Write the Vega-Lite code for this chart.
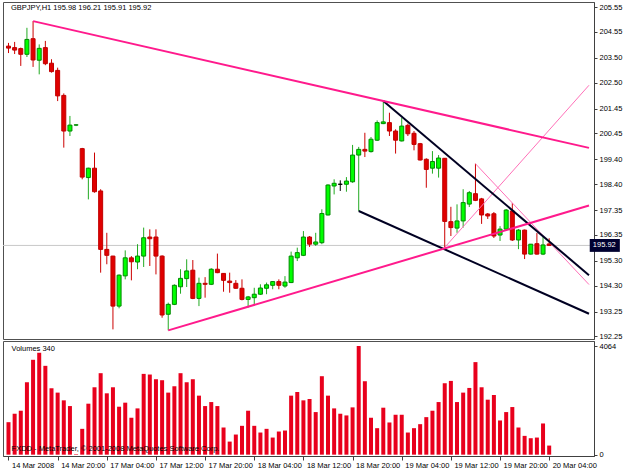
{
  "$schema": "https://vega.github.io/schema/vega-lite/v6.json",
  "background": "white",
  "padding": {"left": 2, "top": 1, "right": 0, "bottom": 0},
  "bounds": "flush",
  "spacing": 2,
  "config": {
    "font": "Liberation Sans",
    "view": {"stroke": "#505050", "strokeWidth": 1},
    "axis": {"domainColor": "#404040", "tickColor": "#404040", "labelColor": "#000000", "labelFont": "Liberation Sans", "labelFontSize": 7.5, "tickSize": 3, "labelPadding": 2, "grid": false}
  },
  "datasets": {
    "candles": [
      {"i":0,"o":203.97,"h":204.10,"l":203.69,"c":203.89,"v":1215},
      {"i":1,"o":203.91,"h":204.14,"l":203.65,"c":203.81,"v":1531},
      {"i":2,"o":203.87,"h":203.91,"l":203.17,"c":203.64,"v":1644},
      {"i":3,"o":203.64,"h":204.71,"l":203.53,"c":204.24,"v":2709},
      {"i":4,"o":204.27,"h":204.98,"l":203.13,"c":203.41,"v":3549},
      {"i":5,"o":203.40,"h":204.04,"l":202.83,"c":203.88,"v":3812},
      {"i":6,"o":203.91,"h":204.18,"l":203.20,"c":203.26,"v":3323},
      {"i":7,"o":203.28,"h":203.44,"l":202.90,"c":202.94,"v":2484},
      {"i":8,"o":202.99,"h":203.10,"l":201.75,"c":201.96,"v":2321},
      {"i":9,"o":201.98,"h":202.06,"l":199.87,"c":200.54,"v":2032},
      {"i":10,"o":200.54,"h":201.15,"l":200.34,"c":200.78,"v":1818},
      {"i":11,"o":200.78,"h":200.82,"l":200.74,"c":200.79,"v":20},
      {"i":12,"o":199.83,"h":199.86,"l":198.59,"c":198.68,"v":966},
      {"i":13,"o":198.66,"h":199.06,"l":197.78,"c":199.04,"v":1907},
      {"i":14,"o":199.04,"h":199.67,"l":198.05,"c":198.09,"v":2521},
      {"i":15,"o":198.12,"h":198.19,"l":194.82,"c":195.76,"v":3048},
      {"i":16,"o":195.76,"h":196.43,"l":195.16,"c":195.52,"v":2295},
      {"i":17,"o":195.49,"h":195.50,"l":192.53,"c":193.47,"v":2521},
      {"i":18,"o":193.47,"h":194.75,"l":193.38,"c":194.72,"v":1794},
      {"i":19,"o":194.69,"h":195.72,"l":194.55,"c":195.42,"v":1945},
      {"i":20,"o":195.42,"h":195.49,"l":194.51,"c":195.26,"v":1381},
      {"i":21,"o":195.25,"h":195.97,"l":194.96,"c":195.49,"v":1731},
      {"i":22,"o":195.49,"h":196.64,"l":195.05,"c":196.23,"v":3022},
      {"i":23,"o":196.26,"h":196.57,"l":195.09,"c":196.19,"v":2998},
      {"i":24,"o":196.26,"h":196.57,"l":194.75,"c":195.49,"v":2822},
      {"i":25,"o":195.49,"h":195.52,"l":193.00,"c":193.11,"v":2785},
      {"i":26,"o":193.14,"h":193.61,"l":192.49,"c":193.54,"v":2321},
      {"i":27,"o":193.54,"h":194.35,"l":193.51,"c":194.31,"v":2559},
      {"i":28,"o":194.25,"h":194.96,"l":193.97,"c":194.59,"v":3048},
      {"i":29,"o":194.58,"h":195.36,"l":194.24,"c":194.89,"v":2709},
      {"i":30,"o":194.92,"h":195.33,"l":193.75,"c":193.78,"v":2822},
      {"i":31,"o":193.78,"h":194.62,"l":193.47,"c":194.39,"v":2208},
      {"i":32,"o":194.39,"h":194.64,"l":193.81,"c":194.35,"v":1818},
      {"i":33,"o":194.35,"h":195.00,"l":194.32,"c":194.96,"v":1968},
      {"i":34,"o":194.96,"h":195.59,"l":194.80,"c":194.82,"v":1818},
      {"i":35,"o":194.79,"h":194.80,"l":194.05,"c":194.51,"v":1016},
      {"i":36,"o":194.48,"h":194.82,"l":194.01,"c":194.42,"v":489},
      {"i":37,"o":194.39,"h":194.52,"l":194.17,"c":194.19,"v":753},
      {"i":38,"o":194.19,"h":194.55,"l":193.70,"c":193.74,"v":1079},
      {"i":39,"o":193.74,"h":193.88,"l":193.41,"c":193.84,"v":1644},
      {"i":40,"o":193.81,"h":194.21,"l":193.51,"c":193.95,"v":1079},
      {"i":41,"o":193.95,"h":194.35,"l":193.92,"c":194.20,"v":828},
      {"i":42,"o":194.19,"h":194.42,"l":193.95,"c":194.33,"v":966},
      {"i":43,"o":194.31,"h":194.48,"l":194.15,"c":194.46,"v":640},
      {"i":44,"o":194.46,"h":194.55,"l":194.15,"c":194.31,"v":866},
      {"i":45,"o":194.28,"h":194.68,"l":194.21,"c":194.44,"v":903},
      {"i":46,"o":194.42,"h":195.67,"l":194.40,"c":195.49,"v":2208},
      {"i":47,"o":195.42,"h":195.83,"l":195.29,"c":195.63,"v":2345},
      {"i":48,"o":195.52,"h":196.50,"l":195.49,"c":196.26,"v":2032},
      {"i":49,"o":196.26,"h":196.30,"l":195.86,"c":195.97,"v":2082},
      {"i":50,"o":195.97,"h":196.43,"l":195.90,"c":196.06,"v":1593},
      {"i":51,"o":196.03,"h":197.38,"l":195.97,"c":197.21,"v":2935},
      {"i":52,"o":197.15,"h":198.39,"l":197.13,"c":198.36,"v":2208},
      {"i":53,"o":198.32,"h":198.59,"l":197.98,"c":198.43,"v":1731},
      {"i":54,"o":198.39,"h":198.55,"l":198.12,"c":198.39,"v":1531},
      {"i":55,"o":198.39,"h":198.68,"l":198.09,"c":198.52,"v":1468},
      {"i":56,"o":198.49,"h":199.98,"l":198.45,"c":199.57,"v":1769},
      {"i":57,"o":199.57,"h":199.90,"l":197.31,"c":199.80,"v":4064},
      {"i":58,"o":199.80,"h":200.47,"l":199.49,"c":199.73,"v":2747},
      {"i":59,"o":199.71,"h":200.30,"l":199.67,"c":200.21,"v":1381},
      {"i":60,"o":200.17,"h":200.97,"l":200.14,"c":200.88,"v":991},
      {"i":61,"o":200.84,"h":201.75,"l":200.82,"c":200.91,"v":1757},
      {"i":62,"o":200.88,"h":201.28,"l":200.34,"c":200.54,"v":1204},
      {"i":63,"o":200.54,"h":200.61,"l":199.63,"c":200.17,"v":1493},
      {"i":64,"o":200.14,"h":201.08,"l":200.12,"c":200.74,"v":1493},
      {"i":65,"o":200.77,"h":200.84,"l":200.34,"c":200.43,"v":828},
      {"i":66,"o":200.45,"h":200.54,"l":199.76,"c":200.00,"v":991},
      {"i":67,"o":200.03,"h":200.06,"l":199.35,"c":199.37,"v":1141},
      {"i":68,"o":199.40,"h":199.44,"l":198.25,"c":198.99,"v":1404},
      {"i":69,"o":199.04,"h":199.73,"l":198.82,"c":199.31,"v":1644},
      {"i":70,"o":199.04,"h":199.57,"l":198.66,"c":199.45,"v":1968},
      {"i":71,"o":199.44,"h":199.45,"l":195.84,"c":196.89,"v":2672},
      {"i":72,"o":196.88,"h":197.48,"l":196.30,"c":196.64,"v":2759},
      {"i":73,"o":196.62,"h":197.58,"l":196.43,"c":196.91,"v":1968},
      {"i":74,"o":196.91,"h":198.19,"l":196.64,"c":197.65,"v":2321},
      {"i":75,"o":197.59,"h":198.12,"l":197.47,"c":198.05,"v":2496},
      {"i":76,"o":198.01,"h":199.22,"l":197.71,"c":197.74,"v":3462},
      {"i":77,"o":197.80,"h":197.84,"l":196.79,"c":197.15,"v":2521},
      {"i":78,"o":197.19,"h":197.23,"l":196.99,"c":197.11,"v":2057},
      {"i":79,"o":197.20,"h":197.27,"l":196.22,"c":196.30,"v":2232},
      {"i":80,"o":196.34,"h":196.70,"l":196.10,"c":196.58,"v":1279},
      {"i":81,"o":196.58,"h":197.39,"l":196.54,"c":197.35,"v":1593},
      {"i":82,"o":197.31,"h":197.63,"l":196.10,"c":196.14,"v":1781},
      {"i":83,"o":196.14,"h":196.58,"l":195.77,"c":196.54,"v":1016},
      {"i":84,"o":196.54,"h":196.56,"l":195.37,"c":195.57,"v":703},
      {"i":85,"o":195.57,"h":195.98,"l":195.55,"c":195.97,"v":615},
      {"i":86,"o":195.99,"h":196.42,"l":195.55,"c":195.57,"v":640},
      {"i":87,"o":195.57,"h":196.26,"l":195.53,"c":195.94,"v":1167},
      {"i":88,"o":195.98,"h":196.21,"l":195.91,"c":195.92,"v":340}
    ],
    "lines": [
      {"line":"A","i":4,"p":204.98},{"line":"A","i":94.48,"p":199.86},
      {"line":"B","i":26,"p":192.49},{"line":"B","i":94.48,"p":197.53},
      {"line":"C","i":61,"p":201.75},{"line":"C","i":94.48,"p":194.72},
      {"line":"D","i":57,"p":197.31},{"line":"D","i":94.48,"p":193.16},
      {"line":"E","i":71,"p":195.84},{"line":"E","i":94.48,"p":202.39},
      {"line":"F","i":76,"p":199.22},{"line":"F","i":94.48,"p":194.34}
    ]
  },
  "vconcat": [
    {
      "width": 591,
      "height": 337,
      "layer": [
        {
          "data": {"values": [{"p": 195.92}]},
          "mark": {"type": "rule", "color": "#c8c8c8", "strokeWidth": 1},
          "encoding": {
            "y": {"field": "p", "type": "quantitative", "scale": {"domain": [192.141, 205.752], "nice": false, "zero": false},
                  "axis": {"orient": "right", "title": null, "format": ".2f", "values": [192.25, 193.25, 194.30, 195.30, 196.35, 197.35, 198.40, 199.40, 200.45, 201.45, 202.50, 203.50, 204.55, 205.55]}}
          }
        },
        {
          "data": {"name": "candles"},
          "mark": {"type": "rule", "strokeWidth": 1},
          "encoding": {
            "x": {"field": "i", "type": "quantitative", "scale": {"domain": [-0.08, 94.48], "nice": false, "zero": false}, "axis": null},
            "y": {"field": "l", "type": "quantitative", "scale": {"domain": [192.141, 205.752], "nice": false, "zero": false},
                  "axis": {"orient": "right", "title": null, "format": ".2f", "values": [192.25, 193.25, 194.30, 195.30, 196.35, 197.35, 198.40, 199.40, 200.45, 201.45, 202.50, 203.50, 204.55, 205.55]}},
            "y2": {"field": "h"},
            "color": {"condition": [{"test": "datum.c > datum.o", "value": "#22aa22"}, {"test": "datum.c == datum.o", "value": "#000000"}], "value": "#cc0000"}
          }
        },
        {
          "data": {"name": "candles"},
          "mark": {"type": "bar", "size": 4, "strokeWidth": 1},
          "encoding": {
            "x": {"field": "i", "type": "quantitative", "scale": {"domain": [-0.08, 94.48], "nice": false, "zero": false}, "axis": null},
            "y": {"field": "o", "type": "quantitative", "scale": {"domain": [192.141, 205.752], "nice": false, "zero": false},
                  "axis": {"orient": "right", "title": null, "format": ".2f", "values": [192.25, 193.25, 194.30, 195.30, 196.35, 197.35, 198.40, 199.40, 200.45, 201.45, 202.50, 203.50, 204.55, 205.55]}},
            "y2": {"field": "c"},
            "fill": {"condition": [{"test": "datum.c > datum.o", "value": "#00ff00"}, {"test": "datum.c == datum.o", "value": "#000000"}], "value": "#e00000"},
            "stroke": {"condition": [{"test": "datum.c > datum.o", "value": "#008800"}, {"test": "datum.c == datum.o", "value": "#000000"}], "value": "#c00000"}
          }
        },
        {
          "data": {"name": "lines"},
          "transform": [{"filter": {"field": "line", "oneOf": ["E", "F"]}}],
          "mark": {"type": "line", "color": "#ff70b8", "strokeWidth": 1},
          "encoding": {
            "x": {"field": "i", "type": "quantitative", "scale": {"domain": [-0.08, 94.48], "nice": false, "zero": false}, "axis": null},
            "y": {"field": "p", "type": "quantitative", "scale": {"domain": [192.141, 205.752], "nice": false, "zero": false},
                  "axis": {"orient": "right", "title": null, "format": ".2f", "values": [192.25, 193.25, 194.30, 195.30, 196.35, 197.35, 198.40, 199.40, 200.45, 201.45, 202.50, 203.50, 204.55, 205.55]}},
            "detail": {"field": "line"}
          }
        },
        {
          "data": {"name": "lines"},
          "transform": [{"filter": {"field": "line", "oneOf": ["C", "D"]}}],
          "mark": {"type": "line", "color": "#000022", "strokeWidth": 2},
          "encoding": {
            "x": {"field": "i", "type": "quantitative", "scale": {"domain": [-0.08, 94.48], "nice": false, "zero": false}, "axis": null},
            "y": {"field": "p", "type": "quantitative", "scale": {"domain": [192.141, 205.752], "nice": false, "zero": false},
                  "axis": {"orient": "right", "title": null, "format": ".2f", "values": [192.25, 193.25, 194.30, 195.30, 196.35, 197.35, 198.40, 199.40, 200.45, 201.45, 202.50, 203.50, 204.55, 205.55]}},
            "detail": {"field": "line"}
          }
        },
        {
          "data": {"name": "lines"},
          "transform": [{"filter": {"field": "line", "oneOf": ["A", "B"]}}],
          "mark": {"type": "line", "color": "#ff1a8c", "strokeWidth": 2},
          "encoding": {
            "x": {"field": "i", "type": "quantitative", "scale": {"domain": [-0.08, 94.48], "nice": false, "zero": false}, "axis": null},
            "y": {"field": "p", "type": "quantitative", "scale": {"domain": [192.141, 205.752], "nice": false, "zero": false},
                  "axis": {"orient": "right", "title": null, "format": ".2f", "values": [192.25, 193.25, 194.30, 195.30, 196.35, 197.35, 198.40, 199.40, 200.45, 201.45, 202.50, 203.50, 204.55, 205.55]}},
            "detail": {"field": "line"}
          }
        },
        {
          "data": {"values": [{"t": "GBPJPY,H1  195.98 196.21 195.91 195.92"}]},
          "mark": {"type": "text", "align": "left", "baseline": "middle", "fontSize": 7.5, "color": "#000000"},
          "encoding": {
            "x": {"datum": 0.4, "type": "quantitative", "scale": {"domain": [-0.08, 94.48], "nice": false, "zero": false}, "axis": null},
            "y": {"datum": 205.49, "type": "quantitative", "scale": {"domain": [192.141, 205.752], "nice": false, "zero": false},
                  "axis": {"orient": "right", "title": null, "format": ".2f", "values": [192.25, 193.25, 194.30, 195.30, 196.35, 197.35, 198.40, 199.40, 200.45, 201.45, 202.50, 203.50, 204.55, 205.55]}},
            "text": {"field": "t"}
          }
        },
        {
          "data": {"values": [{"p": 195.92}]},
          "mark": {"type": "rect", "color": "#000030"},
          "encoding": {
            "x": {"datum": 94.6, "type": "quantitative", "scale": {"domain": [-0.08, 94.48], "nice": false, "zero": false}, "axis": null},
            "x2": {"datum": 99.5},
            "y": {"datum": 196.18, "type": "quantitative", "scale": {"domain": [192.141, 205.752], "nice": false, "zero": false},
                  "axis": {"orient": "right", "title": null, "format": ".2f", "values": [192.25, 193.25, 194.30, 195.30, 196.35, 197.35, 198.40, 199.40, 200.45, 201.45, 202.50, 203.50, 204.55, 205.55]}},
            "y2": {"datum": 195.66}
          }
        },
        {
          "data": {"values": [{"p": 195.92}]},
          "mark": {"type": "text", "align": "left", "baseline": "middle", "fontSize": 7.5, "color": "#ffffff"},
          "encoding": {
            "x": {"datum": 95.1, "type": "quantitative", "scale": {"domain": [-0.08, 94.48], "nice": false, "zero": false}, "axis": null},
            "y": {"field": "p", "type": "quantitative", "scale": {"domain": [192.141, 205.752], "nice": false, "zero": false},
                  "axis": {"orient": "right", "title": null, "format": ".2f", "values": [192.25, 193.25, 194.30, 195.30, 196.35, 197.35, 198.40, 199.40, 200.45, 201.45, 202.50, 203.50, 204.55, 205.55]}},
            "text": {"field": "p", "type": "quantitative", "format": ".2f"}
          }
        }
      ]
    },
    {
      "width": 591,
      "height": 115,
      "layer": [
        {
          "data": {"name": "candles"},
          "mark": {"type": "bar", "size": 4, "color": "#e8001c"},
          "encoding": {
            "x": {"field": "i", "type": "quantitative", "scale": {"domain": [-0.08, 94.48], "nice": false, "zero": false},
                  "axis": {"orient": "bottom", "title": null, "values": [0, 8, 16, 24, 32, 40, 48, 56, 64, 72, 80, 88], "tickSize": 4, "labelAlign": "left", "labelOffset": 3, "labelPadding": 1, "labelFlush": false, "labelOverlap": false,
                           "labelExpr": "['14 Mar 2008','14 Mar 20:00','17 Mar 04:00','17 Mar 12:00','17 Mar 20:00','18 Mar 04:00','18 Mar 12:00','18 Mar 20:00','19 Mar 04:00','19 Mar 12:00','19 Mar 20:00','20 Mar 04:00'][round(datum.value / 8)]"}},
            "y": {"field": "v", "type": "quantitative", "scale": {"domain": [-50, 4252], "nice": false, "zero": false},
                  "axis": {"orient": "right", "title": null, "format": "d", "values": [0, 4064]}},
            "y2": {"datum": 0}
          }
        },
        {
          "data": {"values": [{"t": "Volumes 340"}]},
          "mark": {"type": "text", "align": "left", "baseline": "middle", "fontSize": 7.5, "color": "#000000"},
          "encoding": {
            "x": {"datum": 0.5, "type": "quantitative", "scale": {"domain": [-0.08, 94.48], "nice": false, "zero": false},
                  "axis": {"orient": "bottom", "title": null, "values": [0, 8, 16, 24, 32, 40, 48, 56, 64, 72, 80, 88], "tickSize": 4, "labelAlign": "left", "labelOffset": 3, "labelPadding": 1, "labelFlush": false, "labelOverlap": false,
                           "labelExpr": "['14 Mar 2008','14 Mar 20:00','17 Mar 04:00','17 Mar 12:00','17 Mar 20:00','18 Mar 04:00','18 Mar 12:00','18 Mar 20:00','19 Mar 04:00','19 Mar 12:00','19 Mar 20:00','20 Mar 04:00'][round(datum.value / 8)]"}},
            "y": {"datum": 3950, "type": "quantitative", "scale": {"domain": [-50, 4252], "nice": false, "zero": false},
                  "axis": {"orient": "right", "title": null, "format": "d", "values": [0, 4064]}},
            "text": {"field": "t"}
          }
        },
        {
          "data": {"values": [{"t": "FXDD - MetaTrader, © 2001-2008 MetaQuotes Software Corp."}]},
          "mark": {"type": "text", "align": "left", "baseline": "middle", "fontSize": 7.5, "color": "#000000"},
          "encoding": {
            "x": {"datum": 0.5, "type": "quantitative", "scale": {"domain": [-0.08, 94.48], "nice": false, "zero": false},
                  "axis": {"orient": "bottom", "title": null, "values": [0, 8, 16, 24, 32, 40, 48, 56, 64, 72, 80, 88], "tickSize": 4, "labelAlign": "left", "labelOffset": 3, "labelPadding": 1, "labelFlush": false, "labelOverlap": false,
                           "labelExpr": "['14 Mar 2008','14 Mar 20:00','17 Mar 04:00','17 Mar 12:00','17 Mar 20:00','18 Mar 04:00','18 Mar 12:00','18 Mar 20:00','19 Mar 04:00','19 Mar 12:00','19 Mar 20:00','20 Mar 04:00'][round(datum.value / 8)]"}},
            "y": {"datum": 212, "type": "quantitative", "scale": {"domain": [-50, 4252], "nice": false, "zero": false},
                  "axis": {"orient": "right", "title": null, "format": "d", "values": [0, 4064]}},
            "text": {"field": "t"}
          }
        }
      ]
    }
  ]
}
